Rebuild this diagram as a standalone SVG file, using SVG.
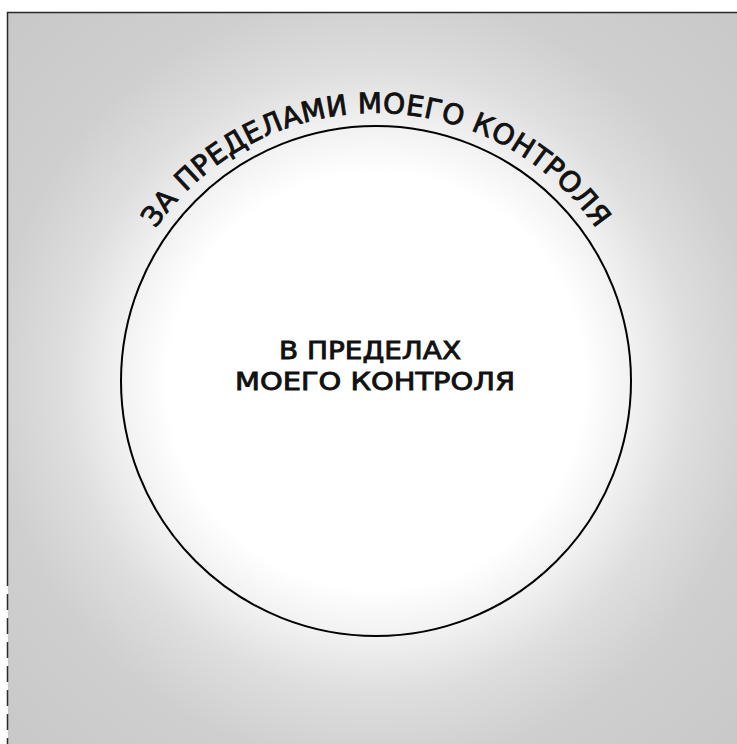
<svg xmlns="http://www.w3.org/2000/svg" width="737" height="744" viewBox="0 0 737 744">
  <defs>
    <radialGradient id="glow" gradientUnits="userSpaceOnUse" cx="376" cy="381" r="520">
      <stop offset="0" stop-color="#ffffff"/>
      <stop offset="0.4" stop-color="#ffffff"/>
      <stop offset="0.5" stop-color="#f0f0f0"/>
      <stop offset="0.6" stop-color="#dedede"/>
      <stop offset="0.74" stop-color="#cfcfcf"/>
      <stop offset="1" stop-color="#c8c8c8"/>
    </radialGradient>
    <path id="arcPath" d="M 108,381 A 268,268 0 0 1 644,381"/>
    <style>
      .lbl { font-family: "DejaVu Sans", "Liberation Sans", sans-serif; font-weight: normal; fill: #111; stroke: #111; stroke-width: 0.9; }
      .frame { stroke: #2a2a2a; stroke-width: 1.5; fill: none; }
    </style>
  </defs>
  <rect x="0" y="0" width="737" height="744" fill="#ffffff"/>
  <g id="background">
    <rect x="8" y="13" width="729" height="731" fill="url(#glow)"/>
    <line class="frame" x1="7" y1="12.5" x2="737" y2="12.5"/>
    <line class="frame" x1="7.5" y1="12" x2="7.5" y2="570"/>
    <line class="frame" x1="7.5" y1="570" x2="7.5" y2="744" stroke-dasharray="16 8"/>
  </g>
  <g id="outer">
    <text class="lbl" font-size="28">
      <textPath href="#arcPath" startOffset="50%" text-anchor="middle" textLength="518" lengthAdjust="spacing">ЗА ПРЕДЕЛАМИ МОЕГО КОНТРОЛЯ</textPath>
    </text>
  </g>
  <g id="inner">
    <circle cx="376" cy="381" r="255" fill="none" stroke="#000" stroke-width="2"/>
    <text class="lbl" font-size="25" text-anchor="middle" x="370" y="359" textLength="182" lengthAdjust="spacingAndGlyphs">В ПРЕДЕЛАХ</text>
    <text class="lbl" font-size="25" text-anchor="middle" x="375" y="390" textLength="280" lengthAdjust="spacingAndGlyphs">МОЕГО КОНТРОЛЯ</text>
  </g>
  <g id="connectors"/>
</svg>
